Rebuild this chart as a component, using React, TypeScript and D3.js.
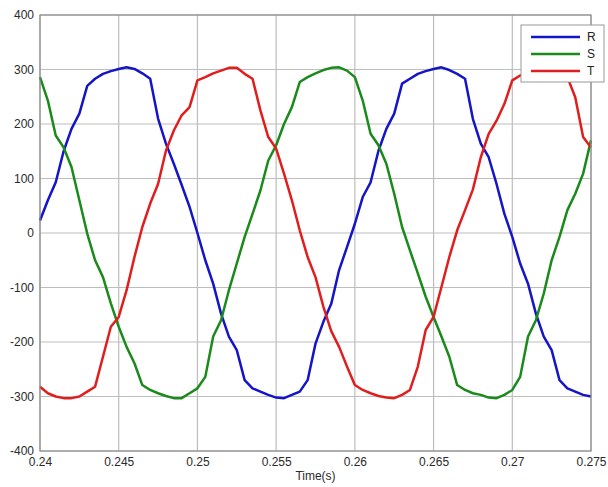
import React, { useRef, useEffect } from "react";
import * as d3 from "d3";

// sample step of the traces (s)
const tStart = 0.24;
const tStep = 0.0005;

const seriesR = [
  23, 60, 93, 150, 191, 219, 270, 283, 292, 297, 301, 304, 301, 293, 283, 210, 164, 127, 88, 48,
  0, -50, -93, -148, -190, -215, -270, -285, -291, -297, -302, -303, -297, -291, -270, -203, -163, -130, -68, -26,
  17, 66, 93, 151, 191, 219, 274, 283, 292, 297, 301, 304, 299, 292, 283, 209, 164, 139, 90, 35,
  -7, -56, -93, -148, -190, -215, -270, -285, -291, -297, -300,
];

const seriesS = [
  286, 243, 179, 157, 121, 60, -1, -50, -81, -129, -172, -209, -239, -279, -288, -294, -299, -303, -303, -294,
  -285, -264, -190, -160, -105, -56, -7, 35, 78, 133, 161, 200, 231, 277, 286, 293, 299, 303, 304, 298,
  286, 243, 182, 161, 127, 72, 11, -32, -74, -117, -154, -190, -227, -279, -288, -294, -297, -302, -303, -297,
  -288, -264, -190, -160, -111, -50, -7, 42, 72, 109, 170,
];

const seriesT = [
  -282, -294, -300, -303, -303, -300, -291, -282, -227, -172, -154, -105, -44, 11, 54, 90, 151, 188, 216, 231,
  280, 286, 293, 298, 303, 303, 292, 283, 225, 176, 155, 109, 60, 5, -44, -81, -135, -180, -209, -245,
  -279, -288, -294, -299, -302, -303, -297, -288, -245, -178, -154, -99, -44, 5, 42, 80, 139, 182, 206, 237,
  280, 289, 293, 298, 303, 303, 292, 286, 249, 176, 157,
];

const seriesNames = ["R", "S", "T"];
const seriesColors = ["#1414c8", "#1a8a1a", "#e01e1e"];

const xTicks = [0.24, 0.245, 0.25, 0.255, 0.26, 0.265, 0.27, 0.275];
const xTickLabels = ["0.24", "0.245", "0.25", "0.255", "0.26", "0.265", "0.27", "0.275"];
const yTicks = [-400, -300, -200, -100, 0, 100, 200, 300, 400];
const yTickLabels = ["-400", "-300", "-200", "-100", "0", "100", "200", "300", "400"];

const App = () => {
  const svgRef = useRef(null);

  useEffect(() => {
    const svg = d3.select(svgRef.current);
    svg.selectAll("*").remove();

    const margin = { top: 15, right: 17, bottom: 35, left: 40 };
    const width = 608;
    const height = 487;
    const font = "Liberation Sans, Arial, sans-serif";

    const xScale = d3
      .scaleLinear()
      .domain([0.24, 0.275])
      .range([margin.left, width - margin.right]);

    const yScale = d3
      .scaleLinear()
      .domain([-400, 400])
      .range([height - margin.bottom - 1, margin.top]);

    svg.append("rect").attr("width", width).attr("height", height).attr("fill", "#fff");

    // grid
    const grid = svg.append("g");
    grid
      .selectAll("line.vx")
      .data(xTicks)
      .join("line")
      .attr("x1", (d) => xScale(d))
      .attr("x2", (d) => xScale(d))
      .attr("y1", yScale(-400))
      .attr("y2", yScale(400))
      .attr("stroke", "#bdbdbd")
      .attr("stroke-width", 1.2);
    grid
      .selectAll("line.hy")
      .data(yTicks)
      .join("line")
      .attr("x1", xScale(0.24))
      .attr("x2", xScale(0.275))
      .attr("y1", (d) => yScale(d))
      .attr("y2", (d) => yScale(d))
      .attr("stroke", "#bdbdbd")
      .attr("stroke-width", 1.2);

    // traces
    const line = d3
      .line()
      .x((d, i) => xScale(tStart + i * tStep))
      .y((d) => yScale(d));

    [seriesR, seriesS, seriesT].forEach((vals, k) => {
      svg
        .append("path")
        .datum(vals)
        .attr("fill", "none")
        .attr("stroke", seriesColors[k])
        .attr("stroke-width", 2.5)
        .attr("stroke-linejoin", "round")
        .attr("d", line);
    });

    // frame
    svg
      .append("rect")
      .attr("x", xScale(0.24))
      .attr("y", yScale(400))
      .attr("width", xScale(0.275) - xScale(0.24))
      .attr("height", yScale(-400) - yScale(400))
      .attr("fill", "none")
      .attr("stroke", "#8c8c8c")
      .attr("stroke-width", 1.2);

    // axes labels
    const xAxis = d3
      .axisBottom(xScale)
      .tickValues(xTicks)
      .tickFormat((d, i) => xTickLabels[i])
      .tickSize(0)
      .tickPadding(6);
    const gx = svg
      .append("g")
      .attr("transform", `translate(0,${yScale(-400)})`)
      .call(xAxis);
    gx.select(".domain").remove();
    gx.selectAll("text")
      .attr("font-family", font)
      .attr("font-size", 12)
      .attr("fill", "#2a2a2a");

    const yAxis = d3
      .axisLeft(yScale)
      .tickValues(yTicks)
      .tickFormat((d, i) => yTickLabels[i])
      .tickSize(0)
      .tickPadding(6);
    const gy = svg
      .append("g")
      .attr("transform", `translate(${xScale(0.24)},0)`)
      .call(yAxis);
    gy.select(".domain").remove();
    gy.selectAll("text")
      .attr("font-family", font)
      .attr("font-size", 12)
      .attr("fill", "#2a2a2a");

    svg
      .append("text")
      .attr("x", (xScale(0.24) + xScale(0.275)) / 2)
      .attr("y", height - 7)
      .attr("text-anchor", "middle")
      .attr("font-family", font)
      .attr("font-size", 12)
      .attr("fill", "#2a2a2a")
      .text("Time(s)");

    // legend
    const lg = svg.append("g").attr("transform", "translate(521,25)");
    lg.append("rect")
      .attr("width", 83)
      .attr("height", 57)
      .attr("fill", "#fff")
      .attr("stroke", "#999")
      .attr("stroke-width", 1);
    seriesNames.forEach((name, k) => {
      const yy = 12 + k * 17;
      lg.append("line")
        .attr("x1", 10)
        .attr("x2", 59)
        .attr("y1", yy)
        .attr("y2", yy)
        .attr("stroke", seriesColors[k])
        .attr("stroke-width", 2.5);
      lg.append("text")
        .attr("x", 66)
        .attr("y", yy + 4)
        .attr("font-family", font)
        .attr("font-size", 12)
        .attr("fill", "#222")
        .text(name);
    });
  }, []);

  return (
    <svg
      ref={svgRef}
      width={608}
      height={487}
      style={{ position: "absolute", left: 0, top: 0 }}
    ></svg>
  );
};

export default App;
